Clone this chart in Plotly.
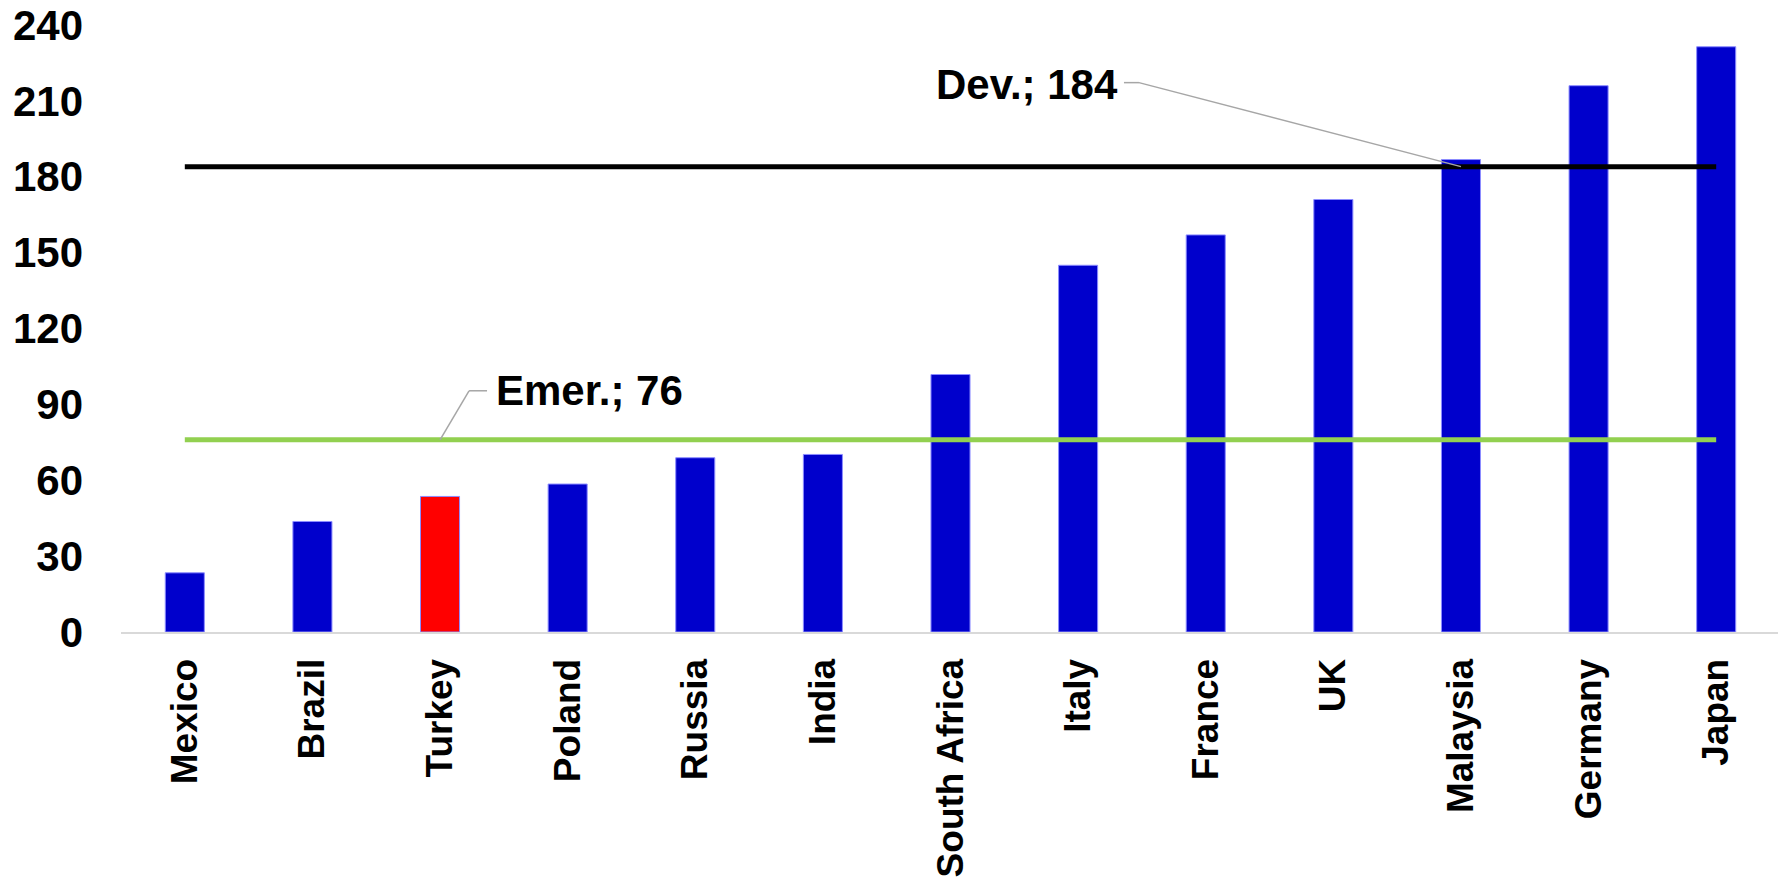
import plotly.graph_objects as go

countries = ["Mexico", "Brazil", "Turkey", "Poland", "Russia", "India", "South Africa",
             "Italy", "France", "UK", "Malaysia", "Germany", "Japan"]
values = [23.4, 43.7, 53.6, 58.5, 68.9, 70.2, 101.8, 145, 157, 171, 186.8, 216, 231.4]
highlight = "Turkey"
dev_avg = 184
emer_avg = 76
y_ticks = [0, 30, 60, 90, 120, 150, 180, 210, 240]

BLUE = "#0000cc"
RED = "#ff0000"
GREEN = "#92d050"
GREY = "#a6a6a6"
FONT = "Liberation Sans, Arial, sans-serif"

bar_colors = [RED if c == highlight else BLUE for c in countries]

fig = go.Figure()
fig.add_trace(go.Bar(
    x=countries, y=values,
    marker=dict(color=bar_colors, line=dict(color="#8c8cff", width=1)),
    showlegend=False, hoverinfo="x+y",
))
fig.add_trace(go.Scatter(
    x=countries, y=[dev_avg] * len(countries), mode="lines",
    line=dict(color="#000000", width=5), showlegend=False, hoverinfo="skip",
))
fig.add_trace(go.Scatter(
    x=countries, y=[emer_avg] * len(countries), mode="lines",
    line=dict(color=GREEN, width=5), showlegend=False, hoverinfo="skip",
))

# Data labels for the two average lines
fig.add_annotation(
    x="Malaysia", y=dev_avg, xref="x", yref="y", showarrow=False,
    text="Dev.; %d" % dev_avg, xanchor="right", yanchor="middle",
    xshift=-341, yshift=82,
    font=dict(family=FONT, size=42, color="#000000", weight="bold"),
)
fig.add_annotation(
    x="Turkey", y=emer_avg, xref="x", yref="y", showarrow=False,
    text="Emer.; %d" % emer_avg, xanchor="left", yanchor="middle",
    xshift=54, yshift=49,
    font=dict(family=FONT, size=42, color="#000000", weight="bold"),
)

# leader lines (anchored to the data points, offsets in pixels)
leader = dict(color=GREY, width=1.5)
shapes = [
    dict(type="line", xref="x", yref="y", xsizemode="pixel", ysizemode="pixel",
         xanchor="Malaysia", yanchor=dev_avg, x0=0, y0=0, x1=-322, y1=84, line=leader),
    dict(type="line", xref="x", yref="y", xsizemode="pixel", ysizemode="pixel",
         xanchor="Malaysia", yanchor=dev_avg, x0=-322, y0=84, x1=-337, y1=84, line=leader),
    dict(type="line", xref="x", yref="y", xsizemode="pixel", ysizemode="pixel",
         xanchor="Turkey", yanchor=emer_avg, x0=0, y0=0, x1=29, y1=49, line=leader),
    dict(type="line", xref="x", yref="y", xsizemode="pixel", ysizemode="pixel",
         xanchor="Turkey", yanchor=emer_avg, x0=29, y0=49, x1=47, y1=49, line=leader),
]

fig.update_layout(
    width=1786, height=880,
    margin=dict(l=113, r=14, t=17, b=256),
    paper_bgcolor="white", plot_bgcolor="white",
    bargap=0.694,
    shapes=shapes,
    font=dict(family=FONT, color="#000000"),
    xaxis=dict(
        type="category", categoryorder="array", categoryarray=countries,
        tickangle=-90, tickfont=dict(family=FONT, size=37, color="#000000", weight="bold"),
        showgrid=False, showline=True, linecolor="#d9d9d9", linewidth=2,
        ticks="", ticklabelstandoff=10, zeroline=False, automargin=False,
    ),
    yaxis=dict(
        range=[0, 240], tickvals=y_ticks, ticktext=[str(v) for v in y_ticks],
        tickfont=dict(family=FONT, size=42, color="#000000", weight="bold"),
        showgrid=False, showline=False, zeroline=False, ticks="",
        ticklabelstandoff=37, ticklabeloverflow="allow", automargin=False,
    ),
)

fig.write_html("out.html")
